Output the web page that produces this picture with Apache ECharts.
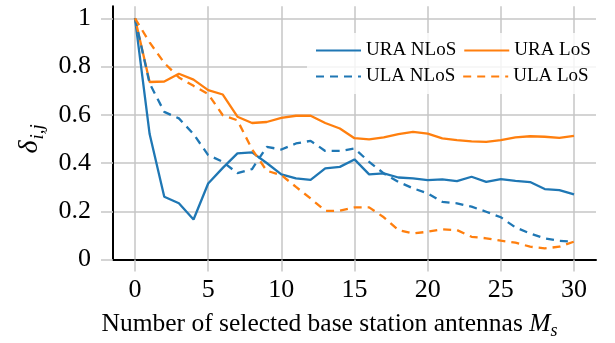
<!DOCTYPE html>
<html>
<head>
<meta charset="utf-8">
<script src="https://cdn.jsdelivr.net/npm/echarts@6/dist/echarts.min.js"></script>
<style>
  html, body { margin: 0; padding: 0; background: #fff; }
  #chart { width: 615px; height: 343px; }
</style>
</head>
<body>
<div id="chart"></div>
<script>
// Number of selected base station antennas
const antennas = [0, 1, 2, 3, 4, 5, 6, 7, 8, 9, 10, 11, 12, 13, 14, 15,
                  16, 17, 18, 19, 20, 21, 22, 23, 24, 25, 26, 27, 28, 29, 30];

const uraNlos = [1.0, 0.52, 0.26, 0.233, 0.166, 0.315, 0.38, 0.44, 0.444, 0.40, 0.353,
                 0.336, 0.33, 0.378, 0.384, 0.415, 0.353, 0.357, 0.34, 0.336, 0.329,
                 0.332, 0.325, 0.343, 0.322, 0.333, 0.326, 0.321, 0.292, 0.288, 0.27];
const uraLos  = [1.0, 0.736, 0.738, 0.77, 0.746, 0.702, 0.684, 0.592, 0.566, 0.57, 0.587,
                 0.596, 0.596, 0.566, 0.543, 0.503, 0.498, 0.506, 0.52, 0.529, 0.522,
                 0.502, 0.495, 0.49, 0.488, 0.495, 0.506, 0.511, 0.509, 0.504, 0.513];
const ulaNlos = [1.0, 0.73, 0.612, 0.585, 0.52, 0.433, 0.405, 0.358, 0.375, 0.467, 0.456,
                 0.481, 0.492, 0.45, 0.45, 0.46, 0.405, 0.357, 0.322, 0.295, 0.274,
                 0.239, 0.233, 0.219, 0.198, 0.175, 0.133, 0.108, 0.088, 0.077, 0.074];
const ulaLos  = [1.0, 0.9, 0.815, 0.755, 0.72, 0.686, 0.598, 0.577, 0.457, 0.368, 0.35,
                 0.301, 0.253, 0.202, 0.202, 0.216, 0.216, 0.175, 0.122, 0.108, 0.115,
                 0.125, 0.122, 0.094, 0.088, 0.078, 0.07, 0.053, 0.046, 0.053, 0.074];

const xTicks = { min: 0, max: 30, step: 5 };
const yTicks = { min: 0, max: 1, step: 0.2 };

const BLUE = '#1f77b4';
const ORANGE = '#ff7f0e';
const GRID_GRAY = '#c6c6c6';
const SERIF = "'Liberation Serif', 'Times New Roman', serif";

const pairs = ys => antennas.map((x, i) => [x, ys[i]]);

const seriesDefs = [
  { name: 'URA NLoS', data: uraNlos, color: BLUE,   dash: 'solid' },
  { name: 'URA LoS',  data: uraLos,  color: ORANGE, dash: 'solid' },
  { name: 'ULA NLoS', data: ulaNlos, color: BLUE,   dash: [8, 6] },
  { name: 'ULA LoS',  data: ulaLos,  color: ORANGE, dash: [8, 6] }
];

// plot frame geometry (pixels)
const plotBottom = 83.5;
const plotTop = 6.24;       // y = 1.05
const unitTop = 18.3;       // y = 1.00

const chart = echarts.init(document.getElementById('chart'), null, { renderer: 'canvas' });

chart.setOption({
  animation: false,
  backgroundColor: '#fff',
  grid: [
    // frame with the black axis lines
    { left: 113, right: 19, top: plotTop, bottom: plotBottom, outerBoundsMode: 'none', containLabel: false },
    // horizontal grid lines and y tick labels
    { left: 113, right: 19, top: unitTop, bottom: plotBottom, outerBoundsMode: 'none', containLabel: false },
    // data area: x from 0 to 30
    { left: 135, right: 41, top: plotTop, bottom: plotBottom, outerBoundsMode: 'none', containLabel: false }
  ],
  xAxis: [
    {
      gridIndex: 0, type: 'value', min: -1.5, max: 31.5,
      axisLine: { show: true, onZero: false, lineStyle: { color: '#000', width: 2 } },
      axisTick: { show: false }, axisLabel: { show: false }, splitLine: { show: false }
    },
    {
      gridIndex: 1, type: 'value', min: -1.5, max: 31.5, show: false
    },
    {
      gridIndex: 2, type: 'value', min: xTicks.min, max: xTicks.max, interval: xTicks.step,
      axisLine: { show: false, onZero: false },
      axisTick: { show: true, length: 12, lineStyle: { color: GRID_GRAY, width: 1.5 } },
      axisLabel: { margin: 18, color: '#000', fontFamily: SERIF, fontSize: 26 },
      splitLine: { show: true, lineStyle: { color: GRID_GRAY, width: 1.5 } },
      name: '{t|Number of selected base station antennas }{m|M}{s|s}',
      nameLocation: 'middle',
      nameGap: 50,
      nameTextStyle: {
        color: '#000',
        padding: [0, 50, 0, 0],
        rich: {
          t: { fontFamily: SERIF, fontSize: 25.5, lineHeight: 30, color: '#000' },
          m: { fontFamily: SERIF, fontSize: 25.5, fontStyle: 'italic', lineHeight: 30, color: '#000' },
          s: { fontFamily: SERIF, fontSize: 18, fontStyle: 'italic', lineHeight: 18, padding: [14, 0, 0, 0], color: '#000' }
        }
      }
    }
  ],
  yAxis: [
    {
      gridIndex: 0, type: 'value', min: 0, max: 1.05,
      axisLine: { show: true, onZero: false, lineStyle: { color: '#000', width: 2 } },
      axisTick: { show: false }, axisLabel: { show: false }, splitLine: { show: false }
    },
    {
      gridIndex: 1, type: 'value', min: yTicks.min, max: yTicks.max, interval: yTicks.step,
      axisLine: { show: false, onZero: false },
      axisTick: { show: true, length: 12, lineStyle: { color: GRID_GRAY, width: 1.5 } },
      axisLabel: { margin: 22, color: '#000', fontFamily: SERIF, fontSize: 26 },
      splitLine: { show: true, lineStyle: { color: GRID_GRAY, width: 1.5 } },
      name: '{d|δ}{s|i,j}',
      nameLocation: 'middle',
      nameRotate: 90,
      nameGap: 69,
      nameTextStyle: {
        color: '#000',
        rich: {
          d: { fontFamily: SERIF, fontSize: 28, fontStyle: 'italic', lineHeight: 28, color: '#000' },
          s: { fontFamily: SERIF, fontSize: 19, fontStyle: 'italic', lineHeight: 19, padding: [15, 0, 0, 1], color: '#000' }
        }
      }
    },
    {
      gridIndex: 2, type: 'value', min: 0, max: 1.05, show: false
    }
  ],
  legend: {
    left: 307,
    top: 33,
    width: 280,
    orient: 'horizontal',
    padding: [8, 6, 8, 8],
    itemGap: 7,
    itemWidth: 45,
    itemHeight: 14,
    backgroundColor: 'rgba(255,255,255,0.8)',
    borderWidth: 0,
    itemStyle: { opacity: 0 },
    textStyle: { fontFamily: SERIF, fontSize: 19, color: '#000', lineHeight: 16 },
    data: seriesDefs.map(s => s.name)
  },
  series: seriesDefs.map(s => ({
    name: s.name,
    type: 'line',
    xAxisIndex: 2,
    yAxisIndex: 2,
    data: pairs(s.data),
    symbol: 'none',
    smooth: false,
    color: s.color,
    lineStyle: { color: s.color, width: 2.3, type: s.dash },
    z: 3
  }))
});
</script>
</body>
</html>
